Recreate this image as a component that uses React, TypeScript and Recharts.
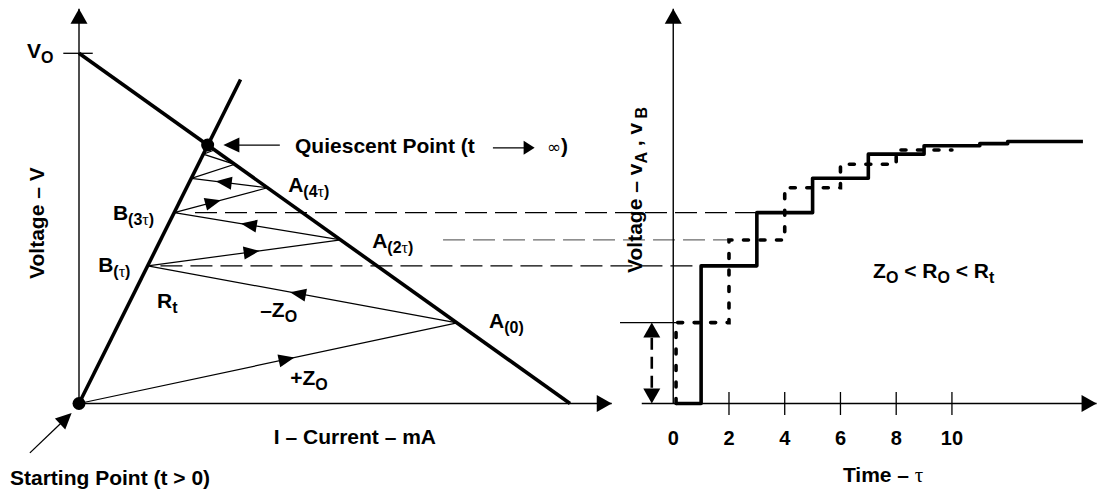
import { ComposedChart, Line, Scatter, XAxis, YAxis } from 'recharts'

const WIDTH = 1097
const HEIGHT = 490
const SANS = '"Liberation Sans", Arial, Helvetica, sans-serif'
const SERIF = '"Liberation Serif", "Times New Roman", serif'

// shared voltage scale, current (left plane) and time in tau (right plane)
const I_DOMAIN: [number, number] = [-1.609, 20.733]
const T_DOMAIN: [number, number] = [-24.157, 15.205]
const V_DOMAIN: [number, number] = [-2.47, 11.522]

const KX_I = WIDTH / (I_DOMAIN[1] - I_DOMAIN[0])
const KX_T = WIDTH / (T_DOMAIN[1] - T_DOMAIN[0])
const KY = HEIGHT / (V_DOMAIN[1] - V_DOMAIN[0])

// ---- left: I-V plane (V_O = 10, short circuit current = 10)
const loadLine = [{ I: 0, V: 10 }, { I: 10, V: 0 }]
const rtLine = [{ I: 0, V: 0 }, { I: 3.29, V: 9.25 }]
const bounce = [
  { I: 0, V: 0 },
  { I: 7.7, V: 2.3 }, // A(0)
  { I: 1.4, V: 3.93 }, // B(τ)
  { I: 5.33, V: 4.67 }, // A(2τ)
  { I: 1.94, V: 5.45 }, // B(3τ)
  { I: 3.84, V: 6.16 }, // A(4τ)
  { I: 2.29, V: 6.43 },
  { I: 3.17, V: 6.83 },
  { I: 2.53, V: 7.12 },
  { I: 2.76, V: 7.24 },
  { I: 2.62, V: 7.36 },
]
const bounceArrows = [
  { seg: 0, at: 0.57 },
  { seg: 1, at: 0.54 },
  { seg: 2, at: 0.58 },
  { seg: 3, at: 0.6 },
  { seg: 4, at: 0.5 },
  { seg: 5, at: 0.68 },
]
const ivDots = [{ I: 0, V: 0 }, { I: 2.62, V: 7.38 }]
const ivAxes = [
  [{ I: 0, V: 0 }, { I: 0, V: 11.27 }],
  [{ I: 0, V: 0 }, { I: 10.85, V: 0 }],
]
const ivThin = [
  [{ I: -0.32, V: 10 }, { I: 0.28, V: 10 }],
  [{ I: 4.09, V: 7.38 }, { I: 3.1, V: 7.38 }],
  [{ I: 8.43, V: 7.3 }, { I: 9.1, V: 7.3 }],
  [{ I: -1.0, V: -1.41 }, { I: -0.3, V: -0.47 }],
]
const ivArrowHeads = [
  { I: 0, V: 11.27, dI: 0, dV: 1, kind: 'axis' },
  { I: 10.85, V: 0, dI: 1, dV: 0, kind: 'axis' },
  { I: 2.94, V: 7.38, dI: -1, dV: 0, kind: 'pointer' },
  { I: 9.28, V: 7.3, dI: 1, dV: 0, kind: 'small' },
  { I: -0.15, V: -0.27, dI: 0.85, dV: 1.14, kind: 'pointer' },
]

type Part = { s: string; sub?: boolean; serif?: boolean; sym?: boolean }
const tauSub = (n: string): Part[] => [{ s: '(' + n, sub: true }, { s: 'τ', sub: true, serif: true }, { s: ')', sub: true }]

const ivLabels = [
  { I: -1.06, V: 9.87, parts: [{ s: 'V' }, { s: 'O', sub: true }] },
  { I: -0.71, V: 5.15, parts: [{ s: 'Voltage – V' }], rotate: true },
  { I: 4.4, V: 7.15, parts: [{ s: 'Quiescent Point (t' }] },
  { I: 9.53, V: 7.15, parts: [{ s: '∞', sym: true }, { s: ')' }] },
  { I: 4.26, V: 6.04, parts: [{ s: 'A' }, ...tauSub('4')] },
  { I: 5.97, V: 4.44, parts: [{ s: 'A' }, ...tauSub('2')] },
  { I: 8.35, V: 2.16, parts: [{ s: 'A' }, { s: '(0)', sub: true }] },
  { I: 0.69, V: 5.24, parts: [{ s: 'B' }, ...tauSub('3')] },
  { I: 0.39, V: 3.76, parts: [{ s: 'B' }, ...tauSub('')] },
  { I: 1.59, V: 2.73, parts: [{ s: 'R' }, { s: 't', sub: true }] },
  { I: 3.69, V: 2.47, parts: [{ s: '–Z' }, { s: 'O', sub: true }] },
  { I: 4.3, V: 0.53, parts: [{ s: '+Z' }, { s: 'O', sub: true }] },
  { I: 5.62, V: -1.17, parts: [{ s: 'I – Current – mA' }], middle: true },
  { I: -1.405, V: -2.33, parts: [{ s: 'Starting Point (t > 0)' }] },
]

// ---- right: time plane
const vB = [
  { t: 0.1, V: 0 }, { t: 1, V: 3.93 }, { t: 3, V: 5.45 }, { t: 5, V: 6.43 }, { t: 7, V: 7.12 },
  { t: 9, V: 7.36 }, { t: 11, V: 7.42 }, { t: 12, V: 7.48 }, { t: 14.7, V: 7.48 },
]
const vA = [
  { t: 0.1, V: 0 }, { t: 0.1, V: 2.31 }, { t: 2, V: 4.67 }, { t: 4, V: 6.16 }, { t: 6, V: 6.83 },
  { t: 8, V: 7.24 }, { t: 10, V: 7.24 },
]
const timeTicks = [0, 2, 4, 6, 8, 10]
const tAxes = [
  [{ t: 0, V: 0 }, { t: 0, V: 11.27 }],
  [{ t: -1.13, V: 0 }, { t: 15.19, V: 0 }],
]
const tThin = [[{ t: -1.91, V: 2.31 }, { t: 0.1, V: 2.31 }]]
const stepSpan = [{ t: -0.77, V: 0.45 }, { t: -0.77, V: 1.9 }]
const tArrowHeads = [
  { t: 0, V: 11.27, dt: 0, dV: 1, kind: 'axis' },
  { t: 15.19, V: 0, dt: 1, dV: 0, kind: 'axis' },
  { t: -0.77, V: 2.31, dt: 0, dV: 1, kind: 'axis' },
  { t: -0.77, V: 0, dt: 0, dV: -1, kind: 'axis' },
]
const connectors = [
  { V: 5.45, from: -17.16, to: 3 },
  { V: 4.67, from: -8.26, to: 2 },
  { V: 3.93, from: -18.4, to: 1 },
]
const CONNECTOR_COLORS = ['#000', '#6b6b6b', '#000']

const tLabels = [
  { t: -1.12, V: 6.1, parts: [{ s: 'Voltage – v' }, { s: 'A', sub: true }, { s: ' , v' }, { s: ' B', sub: true }], rotate: true },
  { t: 7.17, V: 3.58, parts: [{ s: 'Z' }, { s: 'O', sub: true }, { s: ' < R' }, { s: 'O', sub: true }, { s: ' < R' }, { s: 't', sub: true }] },
  { t: 7.53, V: -2.24, parts: [{ s: 'Time – ' }, { s: 'τ', serif: true }], middle: true },
]

const ARROW_SIZE: Record<string, [number, number]> = {
  axis: [15, 8.5],
  pointer: [16, 7.5],
  small: [11, 7],
  flow: [16, 6.5],
}

function arrowShape(kx: number, dxKey: string) {
  return (props: any) => {
    const { cx, cy, payload } = props
    const ang = (Math.atan2(-payload.dV * KY, payload[dxKey] * kx) * 180) / Math.PI
    const [len, half] = ARROW_SIZE[payload.kind]
    return (
      <path
        d={`M0,0 L${-len},${-half} L${-len},${half} Z`}
        transform={`translate(${cx},${cy}) rotate(${ang})`}
        fill="#000"
      />
    )
  }
}

function TextMark(props: any) {
  const { cx, cy, payload } = props
  let shift = 0
  const spans = payload.parts.map((p: Part, i: number) => {
    const target = p.sub ? 5 : 0
    const dy = target - shift
    shift = target
    return (
      <tspan
        key={i}
        dy={dy}
        fontSize={p.sub ? 16 : p.sym ? 17 : 21}
        fontFamily={p.serif ? SERIF : p.sym ? '"DejaVu Sans", sans-serif' : SANS}
        fontWeight={p.serif || p.sym ? 400 : 700}
      >
        {p.s}
      </tspan>
    )
  })
  return (
    <text
      x={cx}
      y={cy}
      textAnchor={payload.middle || payload.rotate ? 'middle' : 'start'}
      transform={payload.rotate ? `rotate(-90 ${cx} ${cy})` : undefined}
      fill="#000"
      style={{ whiteSpace: 'pre' }}
    >
      {spans}
    </text>
  )
}

function TimeTick(props: any) {
  const { cx, cy, payload } = props
  return (
    <g>
      {payload.t !== 0 && <line x1={cx} x2={cx} y1={cy - 11.5} y2={cy + 11.5} stroke="#000" strokeWidth={1.3} />}
      <text x={cx} y={cy + 41.5} textAnchor="middle" fontFamily={SANS} fontWeight={700} fontSize={20} fill="#000">
        {payload.label}
      </text>
    </g>
  )
}

const Dot = (props: any) => <circle cx={props.cx} cy={props.cy} r={6.5} fill="#000" />

export default function App() {
  const flowArrows = bounceArrows.map(({ seg, at }) => {
    const a = bounce[seg]
    const b = bounce[seg + 1]
    return { I: a.I + (b.I - a.I) * at, V: a.V + (b.V - a.V) * at, dI: b.I - a.I, dV: b.V - a.V, kind: 'flow' }
  })
  const tickMarks = timeTicks.map((t) => ({ t, V: 0, label: String(t) }))

  return (
    <div style={{ position: 'absolute', left: 0, top: 0, width: WIDTH, height: HEIGHT, background: '#fff' }}>
      <ComposedChart width={WIDTH} height={HEIGHT} margin={{ top: 0, right: 0, bottom: 0, left: 0 }}>
        <XAxis xAxisId="iv" type="number" dataKey="I" domain={I_DOMAIN} allowDataOverflow hide />
        <XAxis xAxisId="t" type="number" dataKey="t" domain={T_DOMAIN} allowDataOverflow hide />
        <YAxis type="number" dataKey="V" domain={V_DOMAIN} allowDataOverflow hide />

        {connectors.map((c, i) => (
          <Line
            key={'conn' + i}
            xAxisId="t"
            data={[{ t: c.from, V: c.V }, { t: c.to, V: c.V }]}
            dataKey="V"
            stroke={CONNECTOR_COLORS[i]}
            strokeWidth={1.2}
            strokeDasharray="22 8"
            dot={false}
            isAnimationActive={false}
          />
        ))}

        {ivAxes.map((d, i) => (
          <Line key={'iva' + i} xAxisId="iv" data={d} dataKey="V" stroke="#000" strokeWidth={1.4} dot={false} isAnimationActive={false} />
        ))}
        {ivThin.map((d, i) => (
          <Line key={'ivt' + i} xAxisId="iv" data={d} dataKey="V" stroke="#000" strokeWidth={1.3} dot={false} isAnimationActive={false} />
        ))}
        <Line xAxisId="iv" data={bounce} dataKey="V" stroke="#000" strokeWidth={1.2} dot={false} isAnimationActive={false} />
        <Line xAxisId="iv" data={loadLine} dataKey="V" stroke="#000" strokeWidth={3.6} dot={false} isAnimationActive={false} />
        <Line xAxisId="iv" data={rtLine} dataKey="V" stroke="#000" strokeWidth={3.6} dot={false} isAnimationActive={false} />

        {tAxes.map((d, i) => (
          <Line key={'ta' + i} xAxisId="t" data={d} dataKey="V" stroke="#000" strokeWidth={1.4} dot={false} isAnimationActive={false} />
        ))}
        {tThin.map((d, i) => (
          <Line key={'tt' + i} xAxisId="t" data={d} dataKey="V" stroke="#000" strokeWidth={1.3} dot={false} isAnimationActive={false} />
        ))}
        <Line xAxisId="t" data={stepSpan} dataKey="V" stroke="#000" strokeWidth={2.6} strokeDasharray="12 7" dot={false} isAnimationActive={false} />
        <Line
          xAxisId="t"
          type="stepAfter"
          data={vA}
          dataKey="V"
          stroke="#000"
          strokeWidth={3.6}
          strokeDasharray="5 11.5"
          strokeLinecap="round"
          dot={false}
          isAnimationActive={false}
        />
        <Line
          xAxisId="t"
          type="stepAfter"
          data={vB}
          dataKey="V"
          stroke="#000"
          strokeWidth={3.6}
          strokeLinejoin="round"
          dot={false}
          isAnimationActive={false}
        />

        <Scatter xAxisId="iv" data={ivDots} dataKey="V" shape={Dot} isAnimationActive={false} />
        <Scatter xAxisId="iv" data={ivArrowHeads} dataKey="V" shape={arrowShape(KX_I, 'dI')} isAnimationActive={false} />
        <Scatter xAxisId="iv" data={flowArrows} dataKey="V" shape={arrowShape(KX_I, 'dI')} isAnimationActive={false} />
        <Scatter xAxisId="t" data={tArrowHeads} dataKey="V" shape={arrowShape(KX_T, 'dt')} isAnimationActive={false} />
        <Scatter xAxisId="t" data={tickMarks} dataKey="V" shape={TimeTick} isAnimationActive={false} />
        <Scatter xAxisId="iv" data={ivLabels} dataKey="V" shape={TextMark} isAnimationActive={false} />
        <Scatter xAxisId="t" data={tLabels} dataKey="V" shape={TextMark} isAnimationActive={false} />
      </ComposedChart>
    </div>
  )
}
